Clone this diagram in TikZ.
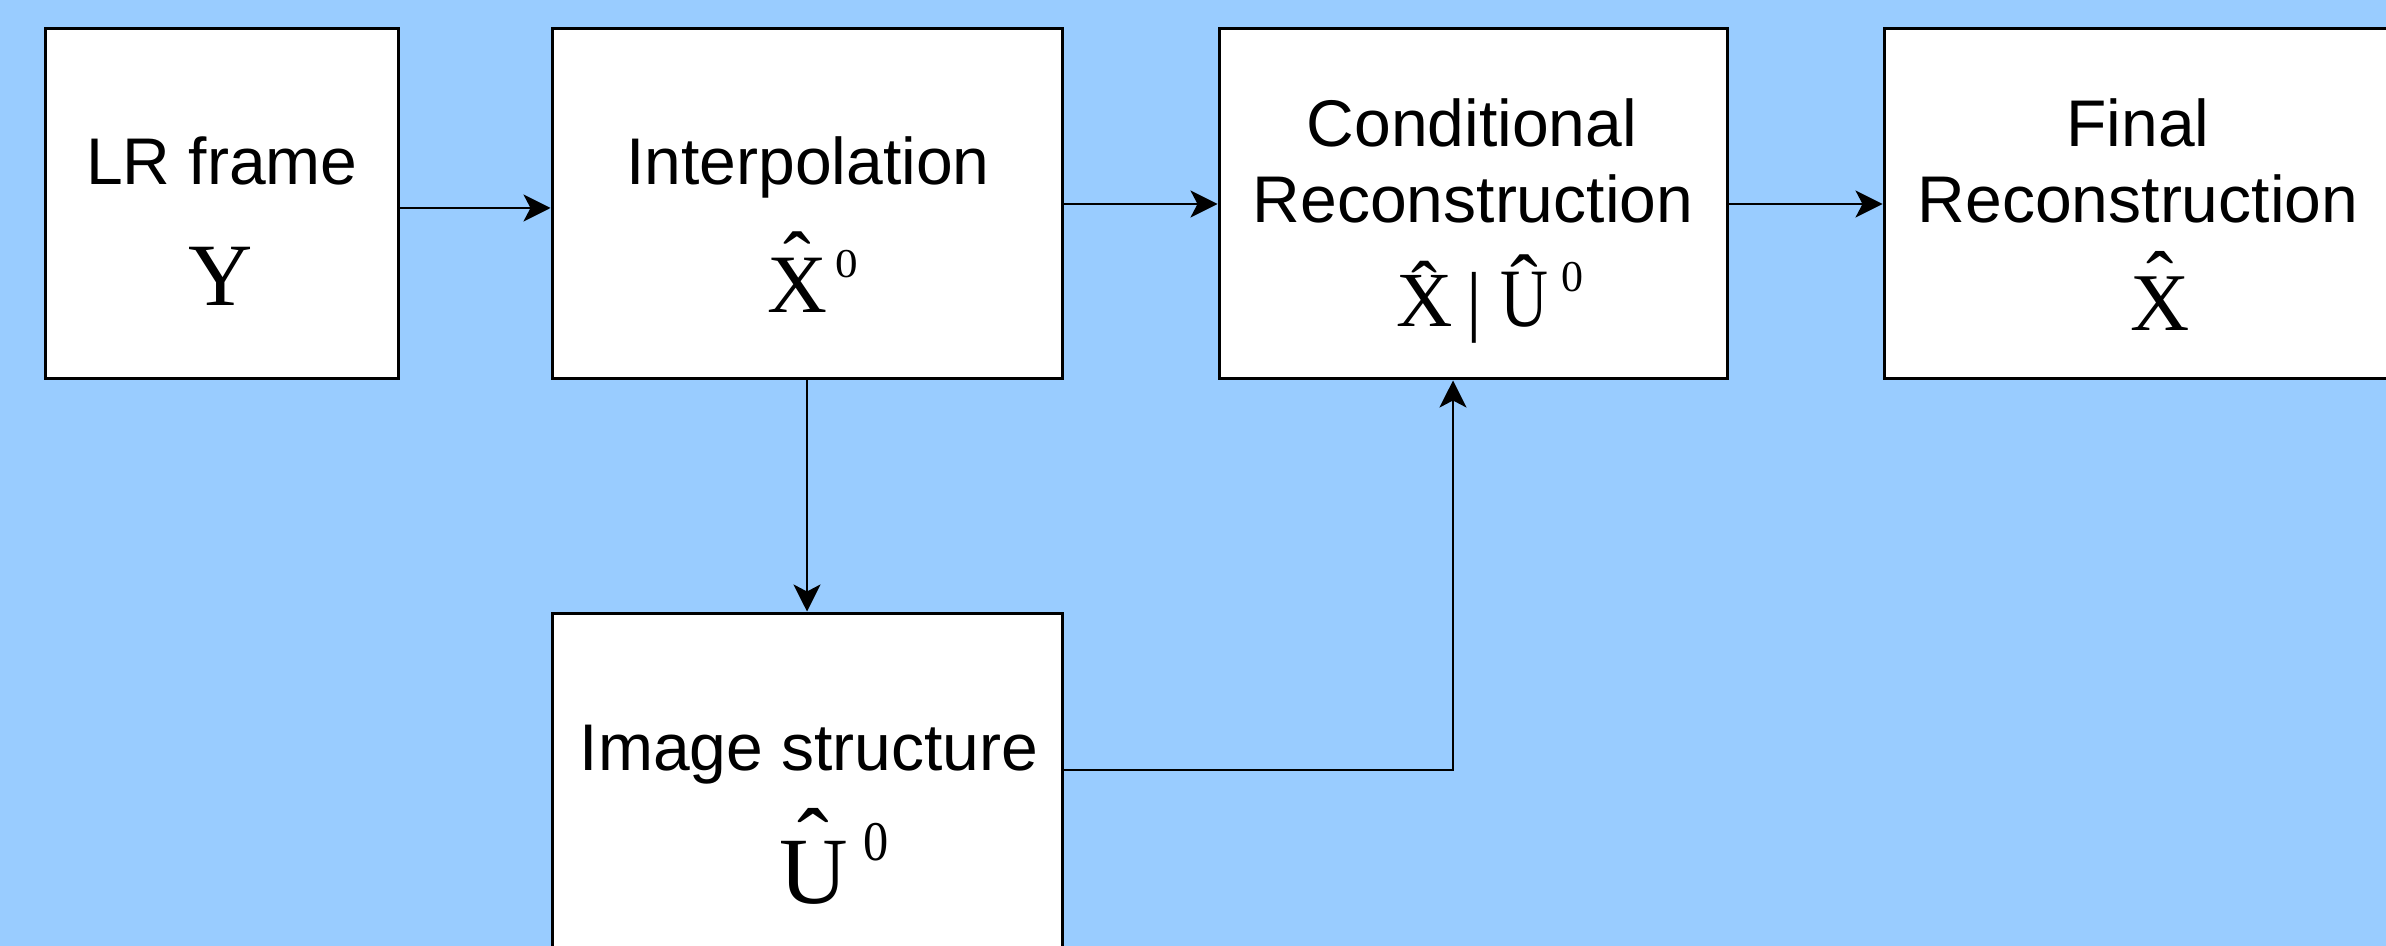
\documentclass[tikz,border=0pt]{standalone}
\usepackage{fontspec}
\setmainfont{Liberation Sans}
\newfontfamily\tms{Liberation Serif}
\usepackage{graphicx}
\usetikzlibrary{arrows.meta}
\definecolor{bgblue}{HTML}{99CCFF}
% font size shortcut
\newcommand\sz[1]{\fontsize{#1}{#1}\selectfont}
% letter (#2, horizontally scaled by #1) with a circumflex raised by #3
\newcommand\hatted[3]{%
  \setbox0\hbox{\scalebox{#1}[1]{#2}}%
  \rlap{\hbox to \wd0{\hss\raisebox{#3}{\char"02C6}\hss}}\box0}
% superscript zero: size #1, x-scale #2, raise #3
\newcommand\supzero[3]{\raisebox{#3}{\sz{#1}\scalebox{#2}[1]{0}}}
\begin{document}
\begin{tikzpicture}[x=0.5pt,y=-0.5pt,
  block/.style={draw=black,fill=white,line width=1.5pt,inner sep=0pt,minimum height=175pt},
  lbl/.style={anchor=base,inner sep=0pt,font=\sz{33}},
  eqn/.style={anchor=base,inner sep=0pt,font=\tms},
  arr/.style={line width=1.35pt,-{Stealth[length=13.5pt,width=13.5pt,inset=3.5pt]}}]
\clip (0,0) rectangle (2386,946);
\fill[bgblue] (0,0) rectangle (2386,946);

% processing blocks
\node[block,minimum width=176.5pt] (lr) at (222,204) {};
\node[block,minimum width=255pt] (interp) at (807,204) {};
\node[block,minimum width=254pt] (cond) at (1473,204) {};
\node[block,minimum width=300pt] (final) at (2184,204) {};
\node[block,minimum width=255pt,minimum height=193.5pt] (img) at (807,806.5) {};

% block titles
\node[lbl] (lrtxt) at (222,185) {LR frame};
\node[lbl] (interptxt) at (808,185) {Interpolation};
\node[lbl] (condtxt1) at (1472,147) {Conditional};
\node[lbl] (condtxt2) at (1473,223) {Reconstruction};
\node[lbl] (finaltxt1) at (2138,147) {Final};
\node[lbl] (finaltxt2) at (2138,223) {Reconstruction};
\node[lbl] (imgtxt) at (809,770) {Image structure};

% symbols
\node[eqn] (ysym) at (221,306) {\sz{44.5}Y};
\node[eqn] (x0sym) at (813,313) {\sz{41.5}\hatted{1}{X}{0.28em}\kern4pt\supzero{20.5}{1.1}{17.5pt}};
\node[eqn] (condsym) at (1490,327) {\sz{39}\hatted{1}{X}{0.15em}\kern7pt|\kern9pt{\sz{41.5}\hatted{0.8}{U}{0.17em}}\kern7pt\supzero{22}{1}{17.5pt}};
\node[eqn] (xsym) at (2160,331) {\sz{41}\hatted{1}{X}{0.28em}};
\node[eqn] (u0sym) at (834,903) {\sz{47.5}\hatted{1}{U}{0.3em}\kern8pt\supzero{28}{0.9}{21.5pt}};

% connectors
\draw[arr] ([yshift=-2pt]lr.east) -- ([yshift=-2pt]interp.west);
\draw[arr] (interp.east) -- (cond.west);
\draw[arr] (cond.east) -- (final.west);
\draw[arr] (interp.south) -- (img.north);
\coordinate (fb) at (1453,770);
\draw[arr] (img.east |- fb) -- (fb) -- (fb |- cond.south);
\end{tikzpicture}
\end{document}
